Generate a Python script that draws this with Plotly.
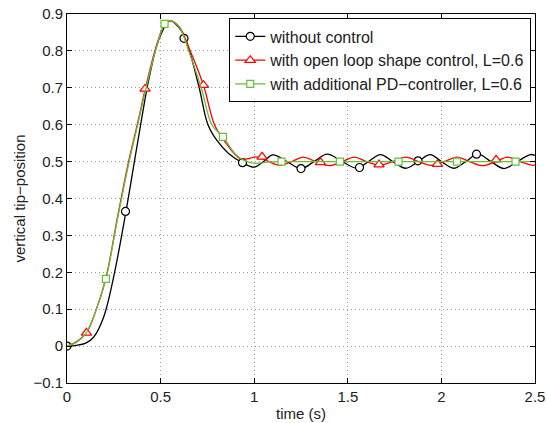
import plotly.graph_objects as go

# ---------------- data ----------------
t_black = [0, 0.05, 0.1, 0.142, 0.196, 0.249, 0.315, 0.36, 0.40, 0.44, 0.49, 0.55, 0.60, 0.632,
           0.703, 0.753, 0.80, 0.863, 0.938, 1.0, 1.05, 1.10, 1.175, 1.25, 1.32, 1.39, 1.47,
           1.55, 1.61, 1.675, 1.74, 1.81, 1.875, 1.94, 2.0, 2.065, 2.13, 2.195, 2.265, 2.335,
           2.405, 2.475, 2.5]
y_black = [0, 0.002, 0.008, 0.024, 0.079, 0.187, 0.365, 0.50, 0.62, 0.73, 0.83, 0.882, 0.862, 0.834,
           0.707, 0.60, 0.558, 0.522, 0.497, 0.485, 0.50, 0.518, 0.50, 0.481, 0.50, 0.52, 0.50,
           0.482, 0.50, 0.519, 0.50, 0.482, 0.50, 0.519, 0.50, 0.482, 0.50, 0.52, 0.50, 0.481,
           0.50, 0.519, 0.517]

t_red = [0, 0.05, 0.104, 0.15, 0.208, 0.27, 0.329, 0.38, 0.418, 0.47, 0.519, 0.55, 0.60, 0.65,
         0.729, 0.788, 0.845, 0.925, 0.97, 1.01, 1.07, 1.135, 1.2, 1.26, 1.33, 1.40, 1.47, 1.535,
         1.60, 1.67, 1.74, 1.81, 1.88, 1.945, 2.015, 2.085, 2.15, 2.22, 2.29, 2.355, 2.42, 2.49, 2.5]
y_red = [0, 0.012, 0.036, 0.09, 0.185, 0.35, 0.50, 0.61, 0.697, 0.80, 0.87, 0.882, 0.865, 0.81,
         0.707, 0.60, 0.553, 0.508, 0.508, 0.513, 0.502, 0.49, 0.50, 0.512, 0.50, 0.489, 0.50, 0.512,
         0.50, 0.49, 0.50, 0.512, 0.50, 0.49, 0.50, 0.512, 0.50, 0.489, 0.50, 0.512, 0.50, 0.49, 0.491]

t_green = [0, 0.05, 0.1, 0.15, 0.208, 0.27, 0.33, 0.38, 0.418, 0.47, 0.521, 0.55, 0.60, 0.65,
           0.717, 0.774, 0.833, 0.90, 0.943, 1.005, 1.08, 1.146, 1.3, 1.6, 2.0, 2.5]
y_green = [0, 0.01, 0.034, 0.09, 0.182, 0.345, 0.495, 0.605, 0.69, 0.795, 0.872, 0.882, 0.864, 0.80,
           0.70, 0.60, 0.567, 0.52, 0.504, 0.495, 0.499, 0.50, 0.50, 0.50, 0.50, 0.50]

# marker positions
mt_black = [0, 0.3125, 0.625, 0.9375, 1.25, 1.5625, 1.875, 2.1875]
my_black = [0, 0.365, 0.834, 0.497, 0.481, 0.484, 0.502, 0.52]
mt_red = [0.104, 0.417, 0.729, 1.042, 1.354, 1.667, 1.979, 2.292]
my_red = [0.036, 0.697, 0.707, 0.513, 0.498, 0.492, 0.493, 0.505]
mt_green = [0.208, 0.521, 0.833, 1.146, 1.458, 1.771, 2.083, 2.396]
my_green = [0.182, 0.873, 0.567, 0.50, 0.50, 0.50, 0.50, 0.50]

names = ["without control",
         "with open loop shape control, L=0.6",
         "with additional PD\u2212controller, L=0.6"]
x_ticks = [0, 0.5, 1, 1.5, 2, 2.5]
y_ticks = [-0.1, 0, 0.1, 0.2, 0.3, 0.4, 0.5, 0.6, 0.7, 0.8, 0.9]

# ---------------- figure ----------------
RED = "#ff0000"
GREEN = "rgb(102,190,60)"
BLACK = "#000000"
FONT = "Liberation Sans, Arial"

series = [
    (t_black, y_black, mt_black, my_black, BLACK, "circle", 8, names[0]),
    (t_red, y_red, mt_red, my_red, RED, "triangle-up", 9, names[1]),
    (t_green, y_green, mt_green, my_green, GREEN, "square", 7, names[2]),
]

fig = go.Figure()
for tl, yl, tm, ym, col, sym, sz, nm in series:
    fig.add_trace(go.Scatter(x=tl, y=yl, mode="lines", line=dict(color=col, width=1.3, shape="spline"),
                             showlegend=False, hoverinfo="skip"))
    fig.add_trace(go.Scatter(x=tm, y=ym, mode="markers",
                             marker=dict(symbol=sym, size=sz, color="white", line=dict(color=col, width=1.2)),
                             showlegend=False))
    fig.add_trace(go.Scatter(x=[None], y=[None], mode="lines+markers", name=nm,
                             line=dict(color=col, width=1.3),
                             marker=dict(symbol=sym, size=sz, color="white", line=dict(color=col, width=1.2))))

axis_common = dict(
    showline=True, linecolor="black", linewidth=1, mirror="ticks",
    ticks="inside", ticklen=5, tickcolor="black", automargin=False,
    showgrid=True, gridcolor="#9a9a9a", griddash="1px,3px", gridwidth=1,
    zeroline=False, tickfont=dict(family=FONT, size=15, color="#222"),
)

fig.update_layout(
    width=547, height=423,
    margin=dict(l=67, r=12, t=14, b=40),
    paper_bgcolor="white", plot_bgcolor="white",
    font=dict(family=FONT, size=15, color="#222"),
    xaxis=dict(range=[0, 2.5], tickvals=x_ticks, ticktext=[f"{v:g}" for v in x_ticks],
               title=dict(text="time (s)", standoff=4, font=dict(size=15)), **axis_common),
    yaxis=dict(range=[-0.1, 0.9], tickvals=y_ticks,
               ticktext=[f"{v:g}".replace("-", "\u2212") for v in y_ticks],
               title=dict(text="vertical tip\u2212position", standoff=4, font=dict(size=15)), **axis_common),
    legend=dict(x=0.992, y=0.988, xanchor="right", yanchor="top",
                bgcolor="white", bordercolor="black", borderwidth=1,
                font=dict(size=16, color="#222"), itemwidth=30, tracegroupgap=0),
)

fig.write_html("out.html")
